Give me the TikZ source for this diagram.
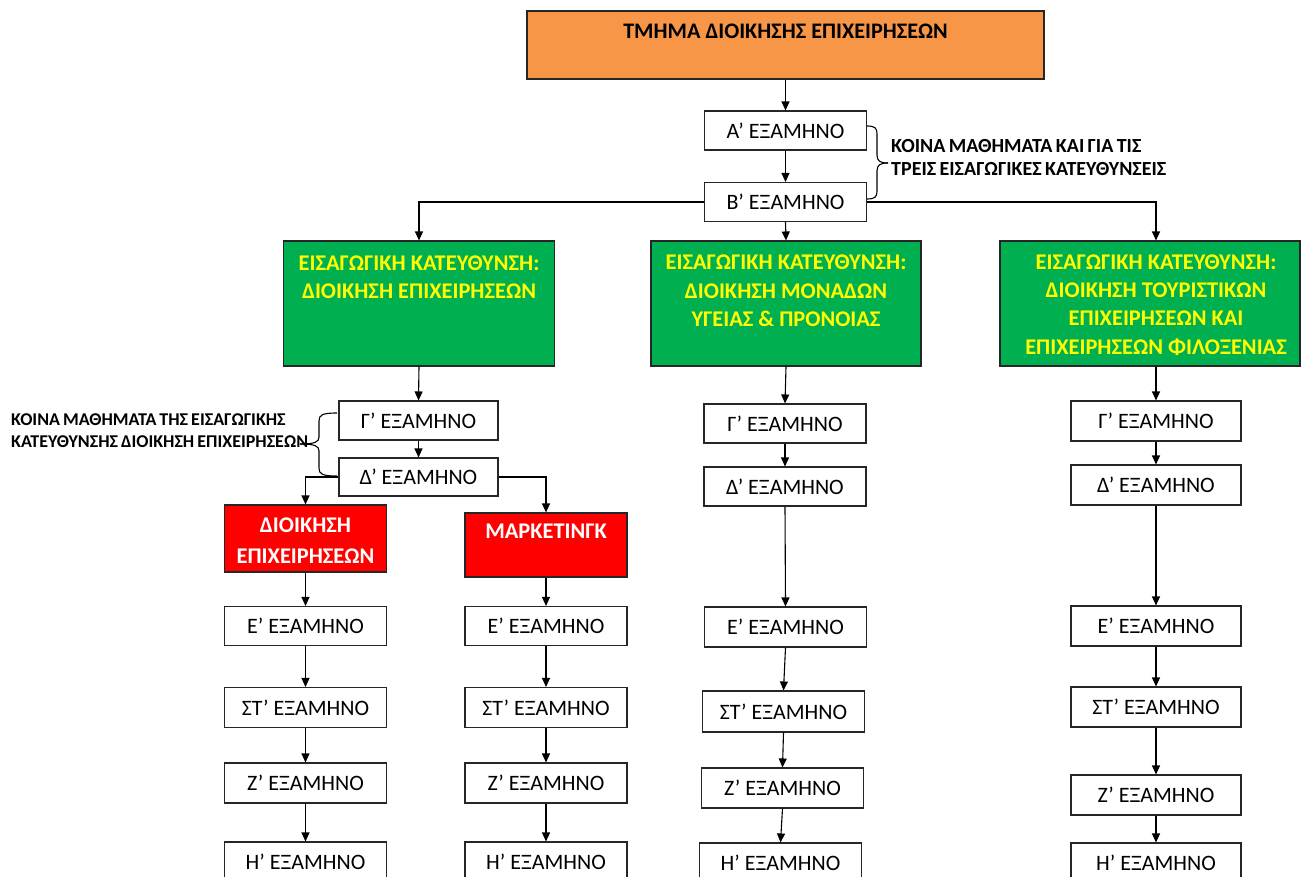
\documentclass[tikz,border=0pt]{standalone}
\usepackage{fontspec}
\setmainfont{Carlito}
\newfontfamily\notefont[WordSpace=0.45]{Carlito}
\newfontfamily\notefontb[WordSpace=0.75]{Carlito}
\usetikzlibrary{arrows.meta}
\definecolor{orng}{HTML}{F79646}
\definecolor{grn}{HTML}{00B050}
\definecolor{rd}{HTML}{FF0000}
\definecolor{ylw}{HTML}{FFFF00}
\begin{document}
\begin{tikzpicture}[x=1pt,y=-1pt,
  box/.style={draw=black!85, line width=1.1pt, inner sep=0pt},
  sem/.style={box, fill=white, minimum width=162pt, minimum height=39pt, font=\fontsize{22}{26}\selectfont},
  semr/.style={sem, minimum width=170pt},
  grbox/.style={box, fill=grn, minimum height=125pt},
  gtxt/.style={align=center, inner sep=0pt, text=ylw, font=\bfseries\fontsize{22.4}{28.3}\selectfont},
  rdbox/.style={box, fill=rd, minimum width=162pt},
  rtxt/.style={align=center, inner sep=0pt, text=white, font=\bfseries\fontsize{22.4}{31}\selectfont},
  note/.style={align=left, inner sep=0pt, anchor=west},
  arr/.style={line width=1.1pt, -{Triangle[length=9pt,width=8pt]}},
  brc/.style={line width=1.1pt}
]
\useasboundingbox (0,0) rectangle (1301,876);
\clip (0,0) rectangle (1301,876);
\fill[white] (0,0) rectangle (1301,876);

% top
\node[box, fill=orng, minimum width=517pt, minimum height=68pt] (top) at (785.5,45) {};
\node[inner sep=0pt, font=\bfseries\fontsize{22.2}{26}\selectfont] (topT) at (785.5,31) {ΤΜΗΜΑ ΔΙΟΙΚΗΣΗΣ ΕΠΙΧΕΙΡΗΣΕΩΝ};

\node[sem] (A) at (785.5,130.5) {Α’ ΕΞΑΜΗΝΟ};
\node[sem] (B) at (785.5,202) {Β’ ΕΞΑΜΗΝΟ};

% notes and braces at the top
\node[note, font=\notefontb\bfseries\fontsize{20}{23}\selectfont] (n1) at (891,157.5) {ΚΟΙΝΑ ΜΑΘΗΜΑΤΑ ΚΑΙ ΓΙΑ ΤΙΣ\\ΤΡΕΙΣ ΕΙΣΑΓΩΓΙΚΕΣ ΚΑΤΕΥΘΥΝΣΕΙΣ};
\draw[brc] (867,126) .. controls (875,126) and (877,128) .. (877,134) -- (877,155) .. controls (877,161) and (880,163) .. (888,163);
\draw[brc] (888,163) .. controls (880,163) and (877,165) .. (877,171) -- (877,191) .. controls (877,197) and (875,199) .. (867,199);

% green boxes
\node[grbox, minimum width=271pt] (g1) at (419,303.5) {};
\node[grbox, minimum width=270pt] (g2) at (786,303.5) {};
\node[grbox, minimum width=300pt] (g3) at (1150,303.5) {};
\node[gtxt] (g1T) at (419,277) {ΕΙΣΑΓΩΓΙΚΗ ΚΑΤΕΥΘΥΝΣΗ:\\ΔΙΟΙΚΗΣΗ ΕΠΙΧΕΙΡΗΣΕΩΝ};
\node[gtxt] (g2T) at (786,291) {ΕΙΣΑΓΩΓΙΚΗ ΚΑΤΕΥΘΥΝΣΗ:\\ΔΙΟΙΚΗΣΗ ΜΟΝΑΔΩΝ\\ΥΓΕΙΑΣ \& ΠΡΟΝΟΙΑΣ};
\node[gtxt] (g3T) at (1156,305) {ΕΙΣΑΓΩΓΙΚΗ ΚΑΤΕΥΘΥΝΣΗ:\\ΔΙΟΙΚΗΣΗ ΤΟΥΡΙΣΤΙΚΩΝ\\ΕΠΙΧΕΙΡΗΣΕΩΝ ΚΑΙ\\ΕΠΙΧΕΙΡΗΣΕΩΝ ΦΙΛΟΞΕΝΙΑΣ};

% left branch
\node[sem, minimum width=159pt] (lG) at (418.5,420.5) {Γ’ ΕΞΑΜΗΝΟ};
\node[sem, minimum width=159pt, minimum height=38pt] (lD) at (418.5,477) {Δ’ ΕΞΑΜΗΝΟ};
\node[note, font=\notefont\bfseries\fontsize{18}{22}\selectfont] (n2) at (11,431) {ΚΟΙΝΑ ΜΑΘΗΜΑΤΑ ΤΗΣ ΕΙΣΑΓΩΓΙΚΗΣ\\ΚΑΤΕΥΘΥΝΣΗΣ ΔΙΟΙΚΗΣΗ ΕΠΙΧΕΙΡΗΣΕΩΝ};
\draw[brc] (337,413) .. controls (322,413) and (319,415) .. (319,421) -- (319,437) .. controls (319,442) and (315,444) .. (300,444);
\draw[brc] (300,444) .. controls (315,444) and (319,446) .. (319,451) -- (319,468) .. controls (319,474) and (322,476) .. (337,476);

\node[rdbox, minimum height=67pt] (r1) at (305.5,538.5) {};
\node[rtxt] (r1T) at (305.5,541) {ΔΙΟΙΚΗΣΗ\\ΕΠΙΧΕΙΡΗΣΕΩΝ};
\node[rdbox, minimum height=64pt] (r2) at (546,545) {};
\node[rtxt] (r2T) at (546,531) {ΜΑΡΚΕΤΙΝΓΚ};

\node[sem] (aE) at (305.5,626) {Ε’ ΕΞΑΜΗΝΟ};
\node[sem, minimum height=40pt] (aS) at (305.5,707.5) {ΣΤ’ ΕΞΑΜΗΝΟ};
\node[sem, minimum height=40pt] (aZ) at (305.5,783) {Ζ’ ΕΞΑΜΗΝΟ};
\node[sem, minimum height=40pt] (aH) at (305.5,862) {Η’ ΕΞΑΜΗΝΟ};

\node[sem] (bE) at (546,626) {Ε’ ΕΞΑΜΗΝΟ};
\node[sem, minimum height=40pt] (bS) at (546,707.5) {ΣΤ’ ΕΞΑΜΗΝΟ};
\node[sem, minimum height=40pt] (bZ) at (546,783) {Ζ’ ΕΞΑΜΗΝΟ};
\node[sem, minimum height=40pt] (bH) at (546,862) {Η’ ΕΞΑΜΗΝΟ};

% middle branch
\node[sem] (mG) at (785,423.5) {Γ’ ΕΞΑΜΗΝΟ};
\node[sem] (mD) at (785,486.5) {Δ’ ΕΞΑΜΗΝΟ};
\node[sem, minimum height=40pt] (mE) at (785.5,627) {Ε’ ΕΞΑΜΗΝΟ};
\node[sem, minimum height=41pt] (mS) at (783.5,711.5) {ΣΤ’ ΕΞΑΜΗΝΟ};
\node[sem, minimum height=40pt] (mZ) at (782.5,788) {Ζ’ ΕΞΑΜΗΝΟ};
\node[sem, minimum height=40pt] (mH) at (780.5,863) {Η’ ΕΞΑΜΗΝΟ};

% right branch
\node[semr, minimum height=40pt] (rG) at (1156,421) {Γ’ ΕΞΑΜΗΝΟ};
\node[semr, minimum height=40pt] (rD) at (1156,485) {Δ’ ΕΞΑΜΗΝΟ};
\node[semr, minimum height=40pt] (rE) at (1156,626) {Ε’ ΕΞΑΜΗΝΟ};
\node[semr, minimum height=40pt] (rS) at (1156,707) {ΣΤ’ ΕΞΑΜΗΝΟ};
\node[semr, minimum height=40pt] (rZ) at (1156,795) {Ζ’ ΕΞΑΜΗΝΟ};
\node[semr, minimum height=40pt] (rH) at (1156,863) {Η’ ΕΞΑΜΗΝΟ};

% connectors
\draw[arr] (top.south) -- (A.north);
\draw[arr] (A.south) -- (B.north);
\draw[arr] (B.west) -| (g1.north);
\draw[arr] (B.south) -- (g2.north);
\draw[arr] (B.east) -| (g3.north -| rG.north);

\draw[arr] (g1.south) -- (lG.north);
\draw[arr] (lG.south) -- (lD.north);
\draw[arr] (lD.west) -| (r1.north);
\draw[arr] (lD.east) -| (r2.north);
\draw[arr] (r1.south) -- (aE.north);
\draw[arr] (aE.south) -- (aS.north);
\draw[arr] (aS.south) -- (aZ.north);
\draw[arr] (aZ.south) -- (aH.north);
\draw[arr] (r2.south) -- (bE.north);
\draw[arr] (bE.south) -- (bS.north);
\draw[arr] (bS.south) -- (bZ.north);
\draw[arr] (bZ.south) -- (bH.north);

\draw[arr] (g2.south) -- (mG.north);
\draw[arr] (mG.south) -- (mD.north);
\draw[arr] (mD.south) -- (mE.north);
\draw[arr] (mE.south) -- (mS.north);
\draw[arr] (mS.south) -- (mZ.north);
\draw[arr] (mZ.south) -- (mH.north);

\draw[arr] (g3.south -| rG.north) -- (rG.north);
\draw[arr] (rG.south) -- (rD.north);
\draw[arr] (rD.south) -- (rE.north);
\draw[arr] (rE.south) -- (rS.north);
\draw[arr] (rS.south) -- (rZ.north);
\draw[arr] (rZ.south) -- (rH.north);
\end{tikzpicture}
\end{document}
